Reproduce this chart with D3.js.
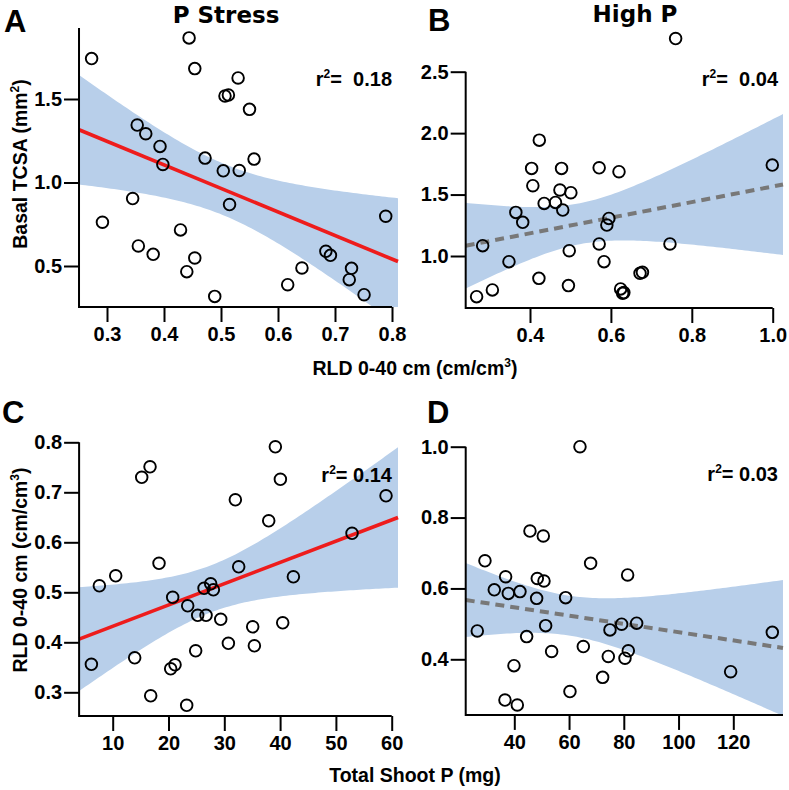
<!DOCTYPE html>
<html>
<head>
<meta charset="utf-8">
<script src="https://cdn.jsdelivr.net/npm/d3@7"></script>
<style>
  body { margin: 0; background: #fff; }
  svg { display: block; }
  text { font-family: "Liberation Sans", Arial, sans-serif; font-weight: bold; fill: #000; }
</style>
</head>
<body>
<svg id="chart" width="789" height="790"></svg>
<script>
// A - P stress: RLD 0-40 cm vs basal TCSA
const aRld  = [0.273,0.444,0.454,0.530,0.507,0.513,0.550,0.353,0.368,0.393,0.398,0.472,0.558,0.504,0.532,0.515,
               0.345,0.292,0.429,0.355,0.381,0.454,0.440,0.489,0.789,0.684,0.692,0.642,0.617,0.729,0.725,0.751];
const aTcsa = [1.742,1.866,1.682,1.626,1.518,1.524,1.438,1.344,1.292,1.216,1.108,1.146,1.140,1.070,1.072,0.868,
               0.904,0.762,0.716,0.620,0.570,0.548,0.466,0.318,0.798,0.588,0.564,0.488,0.388,0.486,0.418,0.328];

// B - high P: RLD 0-40 cm vs basal TCSA
const bRld  = [0.760,0.423,0.404,0.478,0.571,0.620,0.999,0.407,0.474,0.501,0.435,0.463,0.481,0.365,0.382,0.595,
               0.590,0.283,0.571,0.746,0.497,0.348,0.583,0.422,0.495,0.672,0.678,0.624,0.632,0.629,0.307,0.268];
const bTcsa = [2.770,1.943,1.713,1.713,1.718,1.686,1.740,1.572,1.537,1.515,1.428,1.436,1.374,1.355,1.274,1.306,
               1.252,1.084,1.098,1.098,1.043,0.954,0.954,0.818,0.759,0.859,0.867,0.732,0.702,0.696,0.724,0.669];

// C - P stress: total shoot P vs RLD
const cShootP = [39.15,16.69,15.20,40.05,58.98,31.98,37.96,52.89,18.30,10.54,32.58,42.38,7.61,20.75,26.37,27.56,
                 28.04,23.44,25.23,26.73,29.36,35.09,40.47,30.73,35.39,24.87,13.94,21.17,20.39,6.18,16.81,23.26];
const cRld    = [0.791,0.751,0.730,0.726,0.693,0.685,0.643,0.618,0.558,0.533,0.551,0.531,0.513,0.490,0.508,0.517,
                 0.505,0.473,0.454,0.454,0.446,0.431,0.439,0.398,0.393,0.383,0.369,0.355,0.347,0.356,0.293,0.274];

// D - high P: total shoot P vs RLD
const dShootP = [63.99,45.72,50.59,29.28,67.88,81.40,36.83,48.40,50.84,32.69,42.07,37.81,48.16,58.75,26.48,51.45,
                 74.95,79.21,84.69,134.25,44.51,65.21,53.64,81.64,74.34,80.43,39.88,119.03,72.27,60.33,36.59,41.10];
const dRld    = [1.000,0.762,0.748,0.678,0.671,0.638,0.633,0.628,0.621,0.596,0.591,0.586,0.572,0.574,0.480,0.495,
                 0.483,0.499,0.502,0.476,0.464,0.436,0.422,0.424,0.408,0.403,0.382,0.365,0.349,0.309,0.285,0.271];

const rlabels = ["0.18", "0.04", "0.14", "0.03"];

const svg = d3.select("#chart");

// least squares line with a 95% confidence band (t, 30 df)
function fit(xs, ys) {
  const n = xs.length, mx = d3.mean(xs), my = d3.mean(ys);
  const sxx = d3.sum(xs, v => (v - mx) ** 2);
  const sxy = d3.sum(xs, (v, i) => (v - mx) * (ys[i] - my));
  const b = sxy / sxx, a = my - b * mx;
  const s2 = d3.sum(xs, (v, i) => (ys[i] - a - b * v) ** 2) / (n - 2);
  const t = 2.042;
  return x0 => {
    const yh = a + b * x0;
    const se = Math.sqrt(s2 * (1 / n + (x0 - mx) ** 2 / sxx));
    return {x: x0, y: yh, lo: yh - t * se, hi: yh + t * se};
  };
}

function drawPanel(p) {
  const g = svg.append("g");
  const x = d3.scaleLinear().domain(p.xd).range(p.xr);
  const y = d3.scaleLinear().domain(p.yd).range(p.yr);
  const left = x(p.xLim[0]), bottom = y(p.yLim[0]);

  const clipId = "clip" + p.id;
  g.append("clipPath").attr("id", clipId)
    .append("rect").attr("x", left).attr("y", 0)
    .attr("width", x(p.xLim[1]) - left).attr("height", bottom);

  const f = fit(p.xs, p.ys);
  const grid = d3.range(0, 101).map(i => f(p.xLim[0] + (p.xLim[1] - p.xLim[0]) * i / 100));

  g.append("path")
    .attr("clip-path", `url(#${clipId})`)
    .attr("fill", "#b8cfea")
    .attr("d", d3.area().x(d => x(d.x)).y0(d => y(d.lo)).y1(d => y(d.hi))(grid));

  g.append("path")
    .attr("fill", "none")
    .attr("stroke", p.dashed ? "#787878" : "#ee1c1c")
    .attr("stroke-width", p.dashed ? 4 : 3.6)
    .attr("stroke-dasharray", p.dashed ? "9,6" : null)
    .attr("d", d3.line().x(d => x(d.x)).y(d => y(d.y))([grid[0], grid[100]]));

  // axes
  const xAxis = g.append("g").attr("transform", `translate(0,${bottom})`)
    .call(d3.axisBottom(x).tickValues(p.xTicks).tickFormat(p.xFmt).tickSize(15).tickPadding(5));
  const yAxis = g.append("g").attr("transform", `translate(${left},0)`)
    .call(d3.axisLeft(y).tickValues(p.yTicks).tickFormat(d3.format(".1f")).tickSize(15).tickPadding(2));
  [xAxis, yAxis].forEach(a => {
    a.select(".domain").remove();
    a.selectAll("line").attr("stroke", "#000").attr("stroke-width", 2);
    a.selectAll("text").attr("font-size", 20).attr("fill", "#000");
  });
  g.append("path").attr("fill", "none").attr("stroke", "#000").attr("stroke-width", 2)
    .attr("d", `M${left},${y(p.yLim[1])}V${bottom}H${x(p.xAxisEnd)}`);

  g.append("g").selectAll("circle")
    .data(p.xs.map((v, i) => [v, p.ys[i]]))
    .join("circle")
      .attr("cx", d => x(d[0]))
      .attr("cy", d => y(d[1]))
      .attr("r", 5.8)
      .attr("fill", "none")
      .attr("stroke", "#000")
      .attr("stroke-width", 1.9);

  // r squared
  const rt = g.append("text").attr("x", p.rPos[0]).attr("y", p.rPos[1])
    .attr("text-anchor", "end").attr("font-size", 20).style("white-space", "pre");
  rt.append("tspan").text("r");
  rt.append("tspan").attr("font-size", 12).attr("dy", -8).text("2");
  rt.append("tspan").attr("dy", 8).text("=" + p.rGap + rlabels[p.idx]);

  g.append("text").attr("x", p.letter[0]).attr("y", p.letter[1])
    .attr("font-size", 31).text(p.id);
}

drawPanel({id: "A", idx: 0, xs: aRld, ys: aTcsa,
  xd: [0.3, 0.8], xr: [107, 392], yd: [0.5, 1.5], yr: [266, 99],
  xLim: [0.2509, 0.8105], yLim: [0.2545, 1.925], xAxisEnd: 0.8,
  xTicks: [0.3, 0.4, 0.5, 0.6, 0.7, 0.8], xFmt: d3.format(".1f"), yTicks: [0.5, 1.0, 1.5],
  rPos: [392, 86], rGap: "  ", letter: [4, 32]});

drawPanel({id: "B", idx: 1, xs: bRld, ys: bTcsa, dashed: true,
  xd: [0.4, 1.0], xr: [530, 772.7], yd: [1.0, 2.5], yr: [256, 71.7],
  xLim: [0.241, 1.0255], yLim: [0.577, 2.5], xAxisEnd: 1.0,
  xTicks: [0.4, 0.6, 0.8, 1.0], xFmt: d3.format(".1f"), yTicks: [1.0, 1.5, 2.0, 2.5],
  rPos: [778, 86], rGap: "  ", letter: [428, 31]});

drawPanel({id: "C", idx: 2, xs: cShootP, ys: cRld,
  xd: [10, 60], xr: [112.7, 391.7], yd: [0.3, 0.8], yr: [692.3, 442.3],
  xLim: [3.98, 61.13], yLim: [0.2526, 0.8], xAxisEnd: 60,
  xTicks: [10, 20, 30, 40, 50, 60], xFmt: d3.format("d"), yTicks: [0.3, 0.4, 0.5, 0.6, 0.7, 0.8],
  rPos: [392, 482], rGap: " ", letter: [2, 423]});

drawPanel({id: "D", idx: 3, xs: dShootP, ys: dRld, dashed: true,
  xd: [40, 120], xr: [514.3, 733.3], yd: [0.4, 1.0], yr: [659.3, 446.7],
  xLim: [22.25, 138.15], yLim: [0.243, 1.0], xAxisEnd: 138.15,
  xTicks: [40, 60, 80, 100, 120], xFmt: d3.format("d"), yTicks: [0.4, 0.6, 0.8, 1.0],
  rPos: [778, 481], rGap: " ", letter: [427, 423]});

// titles
svg.append("text").attr("x", 226).attr("y", 23).attr("text-anchor", "middle")
  .style("font-family", "'DejaVu Sans', sans-serif").attr("font-size", 23).text("P Stress");
svg.append("text").attr("x", 635).attr("y", 22).attr("text-anchor", "middle")
  .style("font-family", "'DejaVu Sans', sans-serif").attr("font-size", 23).text("High P");

// axis titles with superscripts
function supLabel(sel, parts) {
  sel.append("tspan").text(parts[0]);
  sel.append("tspan").attr("font-size", 12).attr("dy", -8).text(parts[1]);
  sel.append("tspan").attr("dy", 8).text(parts[2]);
}
svg.append("text").attr("transform", "translate(27,164) rotate(-90)")
  .attr("text-anchor", "middle").attr("font-size", 19.5)
  .call(supLabel, ["Basal TCSA (mm", "2", ")"]);
svg.append("text").attr("transform", "translate(27,570) rotate(-90)")
  .attr("text-anchor", "middle").attr("font-size", 19.5)
  .call(supLabel, ["RLD 0-40 cm (cm/cm", "3", ")"]);
svg.append("text").attr("x", 415).attr("y", 375).attr("text-anchor", "middle").attr("font-size", 19.5)
  .call(supLabel, ["RLD 0-40 cm (cm/cm", "3", ")"]);
svg.append("text").attr("x", 415).attr("y", 782).attr("text-anchor", "middle").attr("font-size", 19.5)
  .text("Total Shoot P (mg)");
</script>
</body>
</html>
